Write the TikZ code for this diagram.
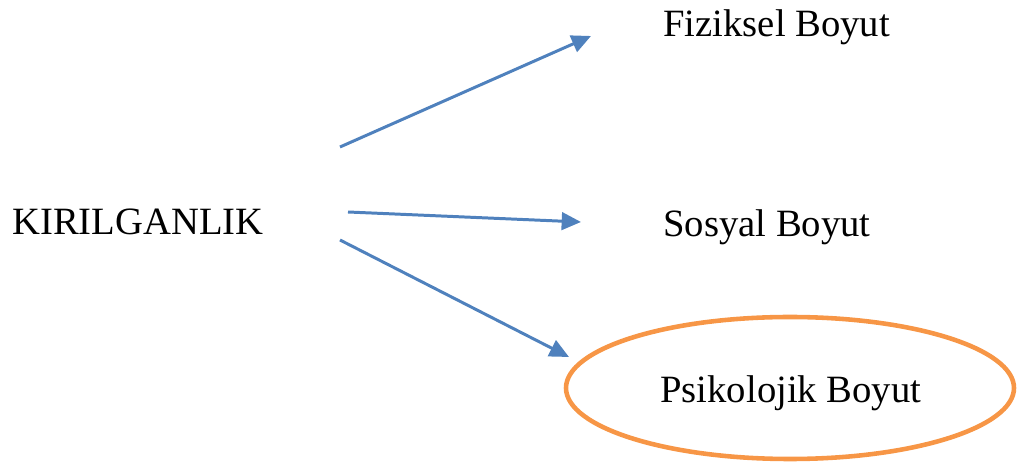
\documentclass[tikz,border=0pt]{standalone}
\usepackage{fontspec}
\setmainfont{Liberation Serif}
\usetikzlibrary{arrows.meta,shapes.geometric}
\definecolor{arrblue}{HTML}{4F81BD}
\definecolor{ellorange}{HTML}{F79646}
\begin{document}
\begin{tikzpicture}[x=0.02cm,y=-0.02cm,
  lbl/.style={anchor=base west,inner sep=0pt,font=\fontsize{22}{26}\selectfont},
  conn/.style={draw=arrblue,line width=1.7pt,-{Triangle[length=11pt,width=10pt]}}]
\useasboundingbox (0,0) rectangle (1018,465);
\node[lbl] (k) at (12,235) {KIRILGANLIK};
\node[lbl] (f) at (663,37) {Fiziksel Boyut};
\node[lbl] (s) at (663,237) {Sosyal Boyut};
\node[lbl] (p) at (660,403) {Psikolojik Boyut};
\node[draw=ellorange,line width=2.6pt,ellipse,minimum width=448*0.02cm,minimum height=142*0.02cm,inner sep=0pt] (e) at (790,388) {};
\coordinate (a1s) at (340,147);
\coordinate (a1e) at (591,36);
\coordinate (a2s) at (348,212);
\coordinate (a2e) at (581,222);
\coordinate (a3s) at (340,240);
\coordinate (a3e) at (569,357);
\draw[conn] (a1s) -- (a1e);
\draw[conn] (a2s) -- (a2e);
\draw[conn] (a3s) -- (a3e);
\end{tikzpicture}
\end{document}
